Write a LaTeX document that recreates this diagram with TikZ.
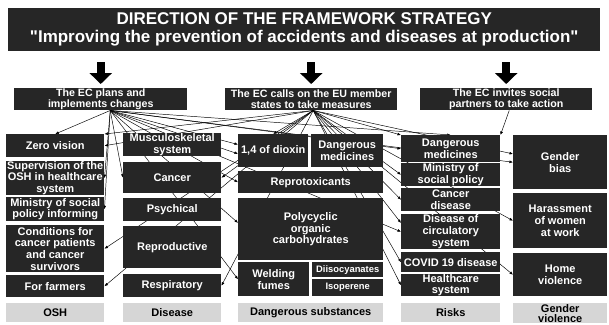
\documentclass[tikz,border=0pt]{standalone}
\usepackage{fontspec}
\setmainfont{Liberation Sans}
\usetikzlibrary{arrows.meta, backgrounds}
\definecolor{cellgray}{HTML}{262626}
\definecolor{taggray}{HTML}{D6D6D6}
\newlength\pxu
\setlength\pxu{0.03cm}

\begin{document}
\begin{tikzpicture}[
			x=0.03cm, y=-0.03cm,
			cell/.style={
				rectangle,
				anchor=north west,
				inner sep=0pt,
				fill=cellgray,
				text=white,
				font=\fontsize{9.4}{10}\selectfont\bfseries,
				align=center
			},
			small/.style={
				cell,
				font=\fontsize{8}{9}\selectfont\bfseries
			},
			head/.style={
				cell,
				font=\fontsize{9.1}{9.8}\selectfont\bfseries
			},
			banner/.style={
				cell,
				font=\fontsize{14.5}{15.5}\selectfont\bfseries
			},
			tag/.style={
				rectangle,
				anchor=north west,
				inner sep=0pt,
				fill=taggray,
				text=black,
				font=\fontsize{9.4}{8.6}\selectfont\bfseries,
				align=center
			},
			link/.style={
				draw=black,
				line width=0.4pt,
				-{Latex[length=3pt,width=2.4pt]}
			},
			bigarrow/.style={
				draw=black,
				line width=0.24cm,
				-{Triangle[width=0.66cm,length=0.33cm]}
			}
			]
			\useasboundingbox (0,0) rectangle (609,324);
			\clip (0,0) rectangle (609,324);
			
			% Title
			\node[banner, minimum width=592\pxu, minimum height=43\pxu] (title) at (8,8) {DIRECTION OF THE FRAMEWORK STRATEGY\\\textquotedbl Improving the prevention of accidents and diseases at production\textquotedbl};
			
			% Second level
			\node[head, minimum width=173\pxu, minimum height=22\pxu] (plans) at (14,88) {The EC plans and\\implements changes};
			\node[head, minimum width=172\pxu, minimum height=22\pxu] (calls) at (225,88) {The EC calls on the EU member\\states to take measures};
			\node[head, minimum width=172\pxu, minimum height=22\pxu] (invites) at (420,88) {The EC invites social\\partners to take action};
			
			\draw[bigarrow] ([yshift=-0.33cm]title.south -| plans.north) -- ([yshift=0.12cm]plans.north);
			\draw[bigarrow] ([yshift=-0.33cm]title.south -| calls.north) -- ([yshift=0.12cm]calls.north);
			\draw[bigarrow] ([yshift=-0.33cm]title.south -| invites.north) -- ([yshift=0.12cm]invites.north);
			
			\coordinate (pfan) at ([xshift=0.285cm]plans.south);
			\coordinate (cfan) at ([xshift=0.06cm]calls.south);
			\coordinate (ifan) at ([xshift=0.09cm]invites.south);
			
			% OSH column
			\node[cell, minimum width=98\pxu, minimum height=23\pxu] (zero) at (6,134) {Zero vision};
			\node[cell, minimum width=98\pxu, minimum height=32\pxu] (super) at (6,161) {Supervision of the\\OSH in healthcare\\system};
			\node[cell, minimum width=98\pxu, minimum height=24\pxu] (minis) at (6,197) {Ministry of social\\policy informing};
			\node[cell, minimum width=98\pxu, minimum height=47\pxu] (condit) at (6,225) {Conditions for\\cancer patients\\and cancer\\survivors};
			\node[cell, minimum width=98\pxu, minimum height=22\pxu] (farmers) at (6,275) {For farmers};
			\node[tag, minimum width=98\pxu, minimum height=19\pxu] (osh) at (6,303) {OSH};
			
			% Disease column
			\node[cell, minimum width=98\pxu, minimum height=23\pxu] (muscul) at (123,133) {Musculoskeletal\\system};
			\node[cell, minimum width=98\pxu, minimum height=31\pxu] (cancer) at (123,162) {Cancer};
			\node[cell, minimum width=98\pxu, minimum height=23\pxu] (psych) at (123,198) {Psychical};
			\node[cell, minimum width=98\pxu, minimum height=42\pxu] (reprod) at (123,226) {Reproductive};
			\node[cell, minimum width=98\pxu, minimum height=23\pxu] (resp) at (123,274) {Respiratory};
			\node[tag, minimum width=98\pxu, minimum height=19\pxu] (disease) at (123,303) {Disease};
			
			% Dangerous substances column
			\node[cell, minimum width=70\pxu, minimum height=33\pxu] (dioxin) at (238,134) {1,4 of dioxin};
			\node[cell, minimum width=72\pxu, minimum height=33\pxu] (dangmed) at (311,134) {Dangerous\\medicines};
			\node[cell, minimum width=145\pxu, minimum height=22\pxu] (reprotox) at (238,171) {Reprotoxicants};
			\node[cell, minimum width=145\pxu, minimum height=62\pxu] (polycyc) at (238,198) {Polycyclic\\organic\\carbohydrates};
			\node[cell, minimum width=71\pxu, minimum height=34\pxu] (welding) at (238,262) {Welding\\fumes};
			\node[small, minimum width=71\pxu, minimum height=15\pxu] (diiso) at (312,262) {Diisocyanates};
			\node[small, minimum width=71\pxu, minimum height=17\pxu] (isop) at (312,279) {Isoperene};
			\node[tag, minimum width=145\pxu, minimum height=19\pxu] (subst) at (238,303) {Dangerous substances};
			
			% Risks column
			\node[cell, minimum width=99\pxu, minimum height=27\pxu] (riskmed) at (401,135) {Dangerous\\medicines};
			\node[cell, minimum width=99\pxu, minimum height=23\pxu] (minis2) at (401,163) {Ministry of\\social policy};
			\node[cell, minimum width=99\pxu, minimum height=23\pxu] (cancdis) at (401,188) {Cancer\\disease};
			\node[cell, minimum width=99\pxu, minimum height=35\pxu] (circ) at (401,214) {Disease of\\circulatory\\system};
			\node[cell, minimum width=99\pxu, minimum height=20\pxu] (covid) at (401,252) {COVID 19 disease};
			\node[cell, minimum width=99\pxu, minimum height=22\pxu] (health) at (401,274) {Healthcare\\system};
			\node[tag, minimum width=99\pxu, minimum height=19\pxu] (risks) at (401,303) {Risks};
			
			% Gender violence column
			\node[cell, minimum width=94\pxu, minimum height=54\pxu] (bias) at (513,135) {Gender\\bias};
			\node[cell, minimum width=94\pxu, minimum height=55\pxu] (harass) at (513,193) {Harassment\\of women\\at work};
			\node[cell, minimum width=94\pxu, minimum height=43\pxu] (homev) at (513,253) {Home\\violence};
			\node[tag, minimum width=94\pxu, minimum height=20\pxu] (gender) at (513,303) {Gender\\violence};
			
			% Connectors, behind the boxes
			\begin{scope}[on background layer]
				% from the EC plans
				\draw[link] (pfan) -- (zero.north);
				\draw[link] (pfan) -- (super.east);
				\draw[link] (pfan) -- (minis.east);
				\draw[link] (pfan) -- (cancer.west);
				\draw[link] (pfan) -- (dioxin.170);
				\draw[link] (pfan) -- (dioxin.185);
				\draw[link] (pfan) -- (reprotox.west);
				\draw[link] (pfan) -- (polycyc.175);
				\draw[link] (pfan) -- (welding.west);
				\draw[link] (pfan) -- (riskmed.north);
				\draw[link] (pfan) -- (riskmed.west);
				\draw[link] (pfan) -- (circ.west);
				\draw[link] (pfan) -- (bias.west);
				% from the EC calls
				\draw[link] (cfan) -- (zero.north east);
				\draw[link] (cfan) -- (zero.east);
				\draw[link] (cfan) -- (condit.east);
				\draw[link] (cfan) -- (farmers.east);
				\draw[link] (cfan) -- (cancer.east);
				\draw[link] (cfan) -- (resp.east);
				\draw[link] (cfan) -- (dioxin.north);
				\draw[link] (cfan) -- (riskmed.north west);
				\draw[link] (cfan) -- (minis2.west);
				\draw[link] (cfan) -- (cancdis.west);
				\draw[link] (cfan) -- (circ.170);
				\draw[link] (cfan) -- (covid.west);
				\draw[link] (cfan) -- (health.west);
				\draw[link] (cfan) -- (bias.170);
				\draw[link] (cfan) -- (harass.west);
				\draw[link] (cfan) -- (homev.west);
				% from the EC invites
				\draw[link] (ifan) -- (riskmed.north east);
			\end{scope}
			
		\end{tikzpicture}
\end{document}
